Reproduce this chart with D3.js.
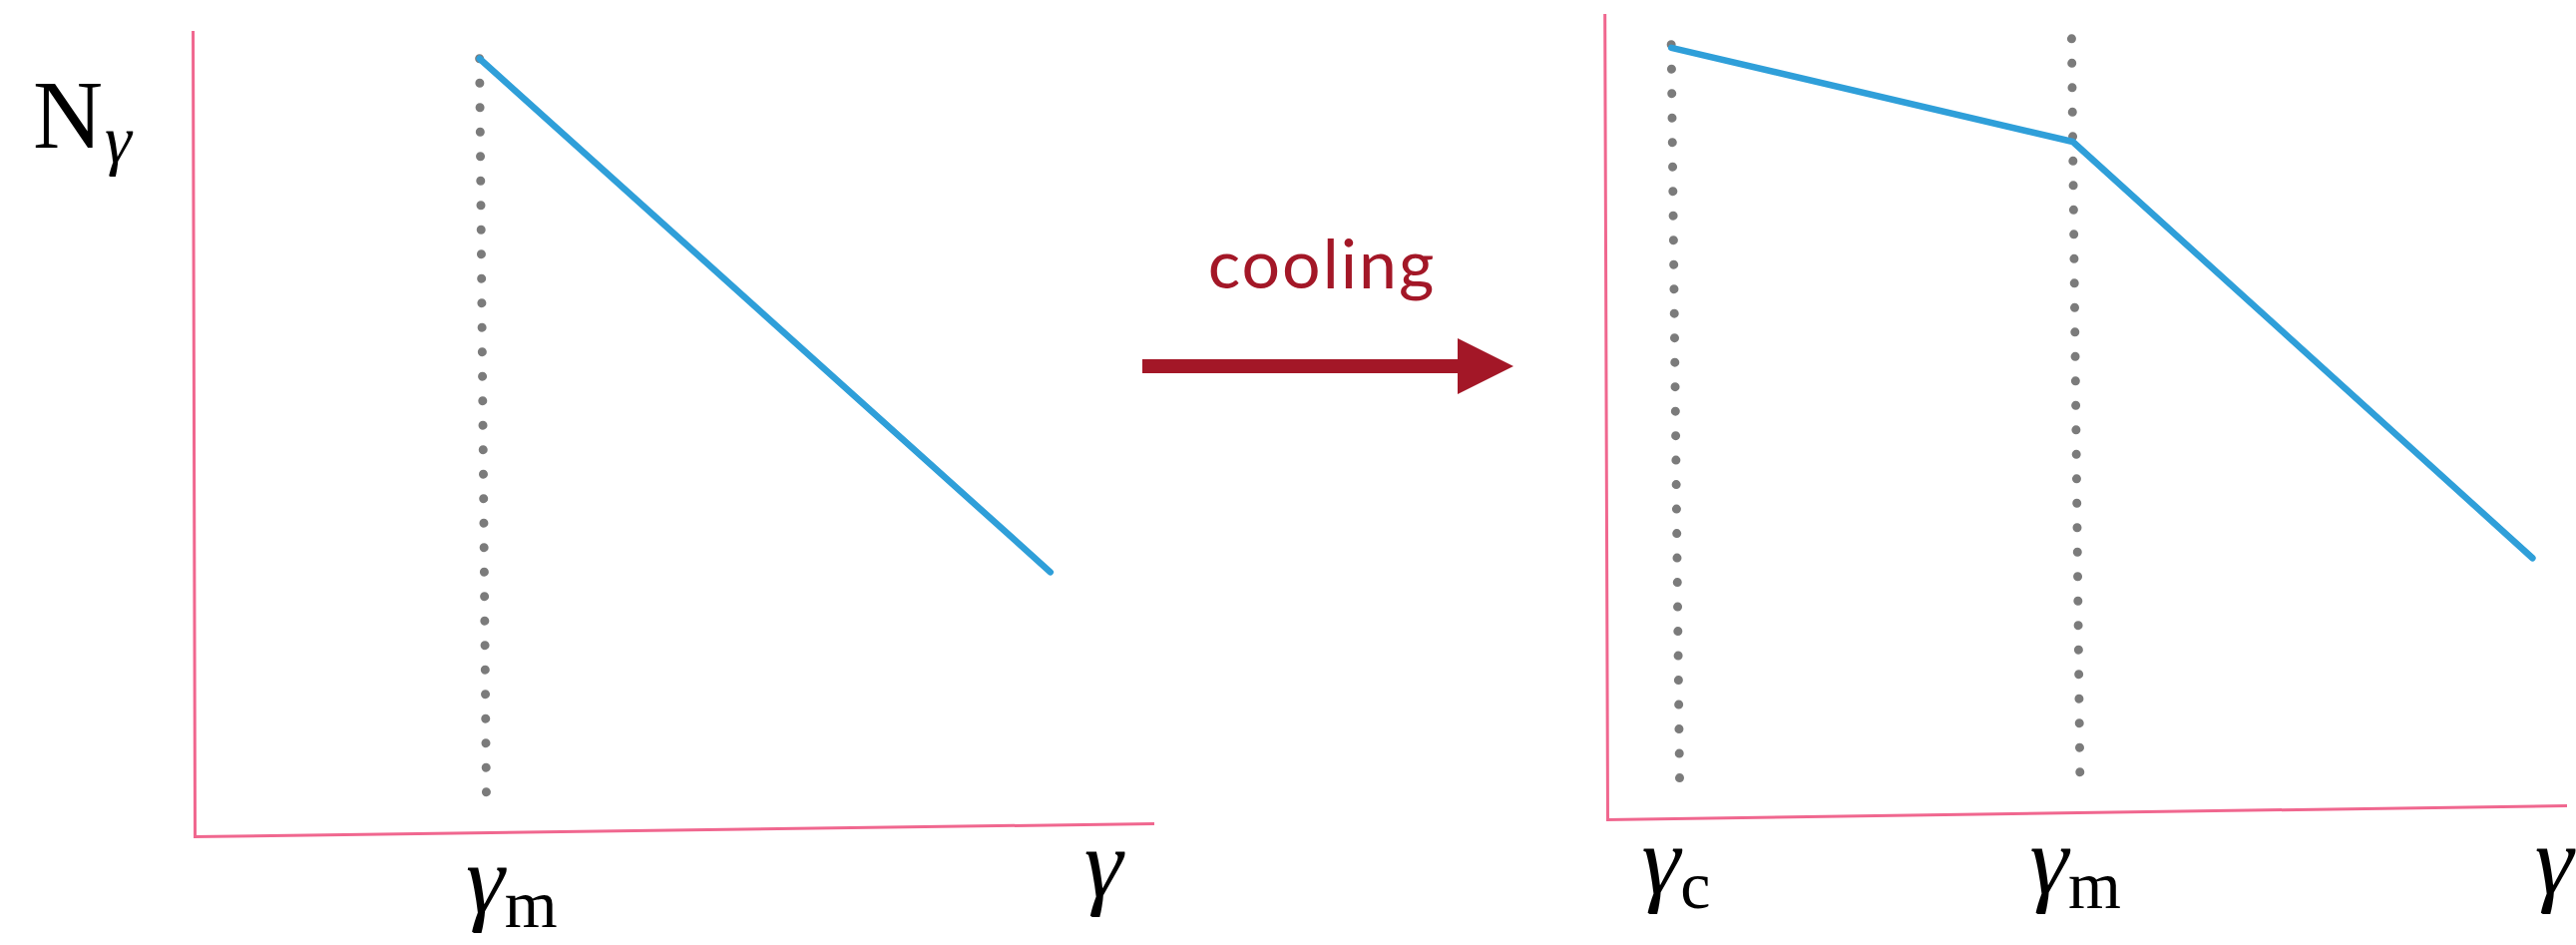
<!DOCTYPE html>
<html>
<head>
<meta charset="utf-8">
<script src="https://cdn.jsdelivr.net/npm/d3@7"></script>
<style>
  html, body { margin: 0; padding: 0; background: #fff; overflow: hidden; }
  svg { display: block; }
</style>
</head>
<body>
<svg id="chart" width="2582" height="947"></svg>
<script>
// Electron spectrum N(γ) before and after radiative cooling, sketched in log–log units.

// Before cooling: a single power law starting at γm
const logGammaBefore = [3.05, 8.96];
const logNBefore     = [9.62, 3.14];

// After cooling: flatter segment from γc to γm, then steeper beyond γm
const logGammaAfter  = [0.76, 4.94, 9.69];
const logNAfter      = [9.58, 8.34, 3.08];

// Characteristic Lorentz factors marked with dotted guides
const breaksBefore = [3.05];
const breaksAfter  = [0.76, 4.94];
const breakLabelsBefore = [["γ", "m"]];
const breakLabelsAfter  = [["γ", "c"], ["γ", "m"]];

const axisTitleX = "γ";
const axisTitleY = ["N", "γ"];
const arrowLabel = "cooling";

const axisExtent  = [0, 10];     // both axes run over 0..10 log units
const guideExtent = [0.2, 9.62]; // vertical span of the dotted guides

// Colours
const AXIS_COLOR  = "#f0678f";
const LINE_COLOR  = "#2f9fd9";
const GUIDE_COLOR = "#7b7b7b";
const ARROW_COLOR = "#a31727";

const SERIF = "'Liberation Serif', 'Times New Roman', serif";

const svg = d3.select("#chart");

const x = d3.scaleLinear().domain(axisExtent).range([0, 960]);
const y = d3.scaleLinear().domain(axisExtent).range([0, -806]);

// Panel placement (page origin = axis corner) and the slight hand-drawn tilt of each sketch
const panels = [
  {
    gx: logGammaBefore, gy: logNBefore, breaks: breaksBefore, labels: breakLabelsBefore,
    origin: [195, 838], skewY: -0.776, skewGuide: 0.53, skewAxis: 0.14,
    labelDx: [25], labelBase: [914], titleDx: -49, titleBase: 898
  },
  {
    gx: logGammaAfter, gy: logNAfter, breaks: breaksAfter, labels: breakLabelsAfter,
    origin: [1611, 821], skewY: -0.836, skewGuide: 0.65, skewAxis: 0.2,
    labelDx: [-4, -5], labelBase: [895, 895], titleDx: -11, titleBase: 895
  }
];

const line = d3.line()
  .x(d => x(d[0]))
  .y(d => y(d[1]));

function mathLabel(sel, main, sub, mainSize, subSize, subShift) {
  sel.append("tspan")
    .attr("font-style", "italic")
    .attr("font-size", mainSize)
    .text(main);
  if (sub) {
    sel.append("tspan")
      .attr("font-size", subSize)
      .attr("dy", subShift)
      .text(sub);
  }
}

panels.forEach(p => {
  const g = svg.append("g")
    .attr("transform", `translate(${p.origin[0]},${p.origin[1]}) skewY(${p.skewY})`);

  // Axes: plain domain lines without ticks
  const axes = g.append("g").attr("transform", `skewX(${p.skewAxis})`);
  axes.append("g")
    .attr("transform", `translate(0,${y(0)})`)
    .call(d3.axisBottom(x).tickValues([]).tickSizeOuter(0));
  axes.append("g")
    .attr("transform", `translate(${x(0)},0)`)
    .call(d3.axisLeft(y).tickValues([]).tickSizeOuter(0));
  axes.selectAll(".domain")
    .attr("stroke", AXIS_COLOR)
    .attr("stroke-width", 3)
    .attr("stroke-linecap", "square");

  const content = g.append("g").attr("transform", `skewX(${p.skewGuide})`);

  // Dotted guides at the break Lorentz factors
  content.selectAll("line.guide")
    .data(p.breaks)
    .join("line")
    .attr("class", "guide")
    .attr("x1", d => x(d)).attr("x2", d => x(d))
    .attr("y1", y(guideExtent[1])).attr("y2", y(guideExtent[0]))
    .attr("stroke", GUIDE_COLOR)
    .attr("stroke-width", 9)
    .attr("stroke-linecap", "round")
    .attr("stroke-dasharray", "0 24.5");

  // Spectrum
  content.append("path")
    .datum(d3.zip(p.gx, p.gy))
    .attr("d", line)
    .attr("fill", "none")
    .attr("stroke", LINE_COLOR)
    .attr("stroke-width", 6.5)
    .attr("stroke-linejoin", "round")
    .attr("stroke-linecap", "round");

  // Break labels below the horizontal axis
  p.breaks.forEach((b, i) => {
    const t = svg.append("text")
      .attr("x", p.origin[0] + x(b) + p.labelDx[i])
      .attr("y", p.labelBase[i])
      .attr("text-anchor", "middle")
      .attr("font-family", SERIF)
      .attr("fill", "#000");
    mathLabel(t, p.labels[i][0], p.labels[i][1], 98, 68, 15);
  });

  // Horizontal axis title
  const tt = svg.append("text")
    .attr("x", p.origin[0] + x(axisExtent[1]) + p.titleDx)
    .attr("y", p.titleBase)
    .attr("text-anchor", "middle")
    .attr("font-family", SERIF)
    .attr("fill", "#000");
  mathLabel(tt, axisTitleX, null, 98);
});

// Vertical axis title N_γ
const yt = svg.append("text")
  .attr("x", 33)
  .attr("y", 148)
  .attr("font-family", SERIF)
  .attr("fill", "#000");
yt.append("tspan").attr("font-size", 97).text(axisTitleY[0]);
yt.append("tspan").attr("font-size", 68).attr("font-style", "italic")
  .attr("dy", 15).attr("dx", 2).text(axisTitleY[1]);

// Cooling arrow between the two panels
const arrow = svg.append("g");
arrow.append("text")
  .attr("x", 1325)
  .attr("y", 289)
  .attr("text-anchor", "middle")
  .attr("font-family", "Lato, 'Noto Sans', sans-serif")
  .attr("font-size", 68)
  .attr("letter-spacing", 2)
  .attr("fill", ARROW_COLOR)
  .text(arrowLabel);

const shaftY = 367, shaftHalf = 7, headHalf = 28;
const shaftX0 = 1145, headX0 = 1461, tipX = 1517;
arrow.append("path")
  .attr("d", d3.line()([
    [shaftX0, shaftY - shaftHalf], [headX0, shaftY - shaftHalf], [headX0, shaftY - headHalf],
    [tipX, shaftY], [headX0, shaftY + headHalf], [headX0, shaftY + shaftHalf],
    [shaftX0, shaftY + shaftHalf]
  ]) + "Z")
  .attr("fill", ARROW_COLOR);
</script>
</body>
</html>
